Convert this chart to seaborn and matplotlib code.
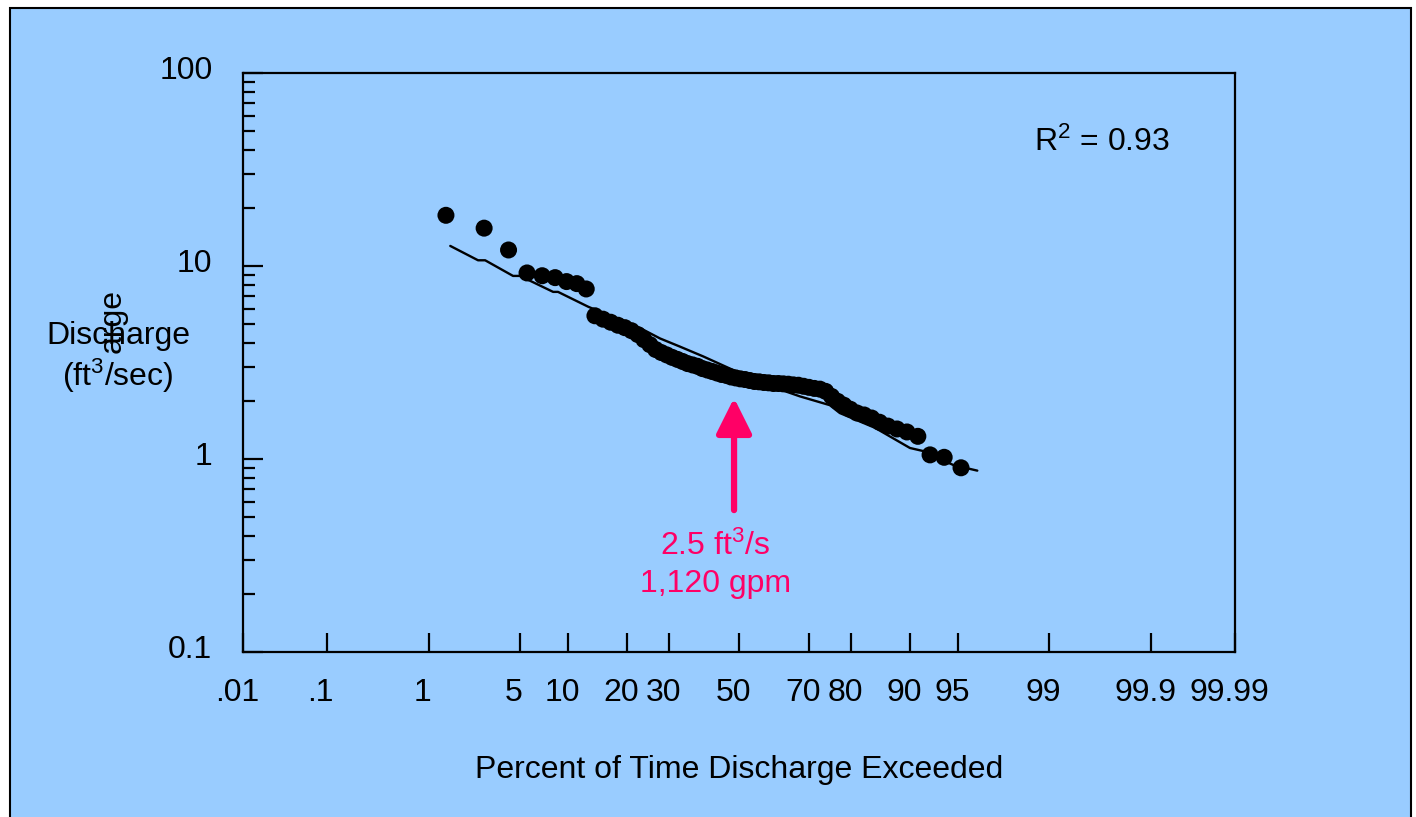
from statistics import NormalDist

import numpy as np
import seaborn as sns
import matplotlib.pyplot as plt
from matplotlib.patches import Rectangle
from matplotlib.transforms import ScaledTranslation
from matplotlib.ticker import FixedLocator, FixedFormatter, LogLocator, NullFormatter

# percent of time exceeded (plotting position) and observed discharge, ft3/sec
pct_exceeded = [1.4, 2.8, 4.2, 5.6, 7.0, 8.4, 9.8, 11.2, 12.6,
                14.0, 15.4, 16.8, 18.2, 19.6, 21.0, 22.4, 23.8, 25.2, 26.6,
                28.0, 29.4, 30.8, 32.2, 33.6, 35.0, 36.4, 37.8, 39.2, 40.6,
                42.0, 43.4, 44.8, 46.2, 47.6, 49.0, 50.4, 51.8, 53.2, 54.6,
                56.0, 57.4, 58.8, 60.2, 61.6, 63.0, 64.4, 65.8, 67.2, 68.6,
                70.0, 71.4, 72.8, 74.2, 75.6, 77.0, 78.4, 79.8, 81.2, 82.6,
                84.0, 85.4, 86.8, 88.2, 89.6, 91.0, 92.4, 93.8, 95.2]
discharge = [18.3, 15.7, 12.1, 9.2, 8.9, 8.7, 8.3, 8.1, 7.6,
             5.52, 5.30, 5.11, 4.93, 4.79, 4.62, 4.41, 4.15, 3.91, 3.69,
             3.56, 3.46, 3.36, 3.28, 3.20, 3.12, 3.07, 3.02, 2.94, 2.89,
             2.84, 2.79, 2.74, 2.71, 2.66, 2.63, 2.60, 2.58, 2.55, 2.52,
             2.51, 2.49, 2.48, 2.46, 2.46, 2.45, 2.44, 2.42, 2.41, 2.38,
             2.35, 2.32, 2.30, 2.24, 2.11, 1.99, 1.90, 1.81, 1.73, 1.69,
             1.63, 1.55, 1.48, 1.43, 1.38, 1.31, 1.05, 1.02, 0.90]

# fitted curve
fit_pct = [1.52, 2.52, 2.85, 4.51, 5.03, 8.17, 8.74, 12.9, 23.6, 27.7, 32.9,
           39.4, 47.3, 57.7, 67.6, 75.2, 77.5, 84.6, 90.0, 91.6, 94.6, 96.3]
fit_q = [12.7, 10.7, 10.7, 8.88, 8.88, 7.34, 7.34, 6.15, 4.68, 4.21, 3.82,
         3.40, 2.94, 2.44, 2.11, 1.90, 1.73, 1.45, 1.14, 1.10, 0.93, 0.87]

x_ticks = [0.01, 0.1, 1, 5, 10, 20, 30, 50, 70, 80, 90, 95, 99, 99.9, 99.99]
x_ticklabels = ['.01', '.1', '1', '5', '10', '20', '30', '50', '70', '80',
                '90', '95', '99', '99.9', '99.99']
y_ticks = [0.1, 1, 10, 100]
y_ticklabels = ['0.1', '1', '10', '100']

pink = '#FF0066'
blue = '#99CCFF'

sns.set_style('ticks')
plt.rcParams['font.family'] = ['Liberation Sans', 'DejaVu Sans']
plt.rcParams['mathtext.fontset'] = 'custom'
plt.rcParams['mathtext.rm'] = 'Liberation Sans'
plt.rcParams['mathtext.it'] = 'Liberation Sans'
plt.rcParams['font.size'] = 23
for k in ['text.color', 'axes.labelcolor', 'xtick.color', 'ytick.color',
          'xtick.labelcolor', 'ytick.labelcolor']:
    plt.rcParams[k] = 'black'

nd = NormalDist()
_ppf = np.vectorize(nd.inv_cdf, otypes=[float])
_cdf = np.vectorize(nd.cdf, otypes=[float])


def prob_fwd(p):
    p = np.clip(np.asarray(p, dtype=float) / 100.0, 1e-9, 1 - 1e-9)
    return _ppf(p)


def prob_inv(z):
    return _cdf(np.asarray(z, dtype=float)) * 100.0


fig = plt.figure(figsize=(14.16, 8.17), dpi=100)
fig.patch.set_facecolor('white')
fig.add_artist(Rectangle((10 / 1416, -0.01), 1401 / 1416, 1 - 8 / 817 + 0.01,
                         transform=fig.transFigure, facecolor=blue,
                         edgecolor='black', linewidth=1.5, zorder=-5))

ax = fig.add_axes([0.1716, 0.2020, 0.7006, 0.7087])
ax.set_facecolor('none')
ax.set_xscale('function', functions=(prob_fwd, prob_inv))
ax.set_yscale('log')

sns.lineplot(x=fit_pct, y=fit_q, ax=ax, color='black', linewidth=1.7,
             estimator=None, sort=False)
sns.scatterplot(x=pct_exceeded, y=discharge, ax=ax, color='black', s=150,
                edgecolor='none', zorder=3)

ax.set_xlim(0.01, 99.99)
ax.set_ylim(0.1, 100)

ax.xaxis.set_major_locator(FixedLocator(x_ticks))
ax.xaxis.set_major_formatter(FixedFormatter(x_ticklabels))
ax.xaxis.set_minor_locator(FixedLocator([]))
ax.yaxis.set_major_locator(FixedLocator(y_ticks))
ax.yaxis.set_major_formatter(FixedFormatter(y_ticklabels))
ax.yaxis.set_minor_locator(LogLocator(base=10, subs=np.arange(2, 10)))
ax.yaxis.set_minor_formatter(NullFormatter())

for s in ax.spines.values():
    s.set_visible(True)
    s.set_color('black')
    s.set_linewidth(1.6)

ax.tick_params(axis='x', which='major', direction='in', length=13.5, width=1.6,
               pad=19, labelsize=23, top=False, colors='black')
ax.tick_params(axis='y', which='major', direction='in', length=14.5, width=1.6,
               pad=22, labelsize=23, right=False, colors='black')
ax.tick_params(axis='y', which='minor', direction='in', length=8.5, width=1.6,
               right=False, colors='black')

for lab in ax.get_xticklabels():
    lab.set_transform(lab.get_transform() + ScaledTranslation(-0.06, 0, fig.dpi_scale_trans))
for lab in ax.get_yticklabels():
    lab.set_transform(lab.get_transform() + ScaledTranslation(0, 0.05, fig.dpi_scale_trans))

ax.set_xlabel('Percent of Time Discharge Exceeded', fontsize=23, color='black')
ax.xaxis.set_label_coords(0.5, -0.204)
ax.xaxis.label.set_va('center')
ax.set_ylabel('Discharge\n(ft$^3$/sec)', fontsize=23, rotation=0, color='black',
              ha='center', va='center', linespacing=1.2)
ax.yaxis.set_label_coords(-0.126, 0.508)

# stray rotated fragment visible behind the axis title
ax.text(-0.131, 0.572, 'arge', transform=ax.transAxes, rotation=90,
        ha='center', va='center', fontsize=23, color='black')

ax.text(0.866, 0.880, 'R$^2$ = 0.93', transform=ax.transAxes,
        ha='center', va='center', fontsize=23, color='black')

ax.annotate('', xy=(0.495, 0.4387), xytext=(0.495, 0.245),
            xycoords='axes fraction', textcoords='axes fraction',
            arrowprops=dict(arrowstyle='-|>,head_length=1.08,head_width=0.54',
                            mutation_scale=20, color=pink, lw=4.5,
                            shrinkA=0, shrinkB=0))
ax.text(0.476, 0.150, '2.5 ft$^3$/s\n1,120 gpm', transform=ax.transAxes,
        ha='center', va='center', color=pink, fontsize=23, linespacing=1.3)

fig.savefig('out.png', dpi=100)
